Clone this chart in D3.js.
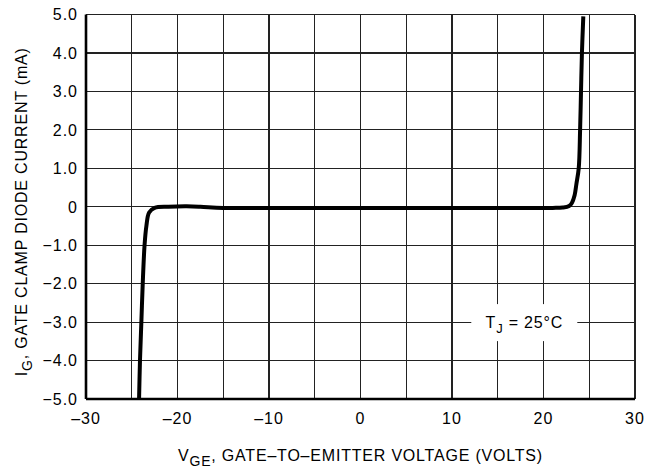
<!DOCTYPE html>
<html lang="en">
<head>
    <meta charset="UTF-8">
    <title>Gate Clamp Diode Current</title>
    <script src="https://d3js.org/d3.v7.min.js"></script>
    <style>
        body {
            margin: 0;
            background: #fff;
            font-family: "Liberation Sans", Arial, sans-serif;
        }
        .grid line {
            stroke: #222;
            stroke-width: 1.2;
            shape-rendering: crispEdges;
        }
        .tick-label {
            font-size: 16px;
            letter-spacing: 1px;
            fill: #000;
        }
        .title {
            font-size: 16px;
            letter-spacing: 0.8px;
            fill: #000;
        }
    </style>
</head>
<body>
    <div id="chart"></div>

    <script>
        // Gate clamp diode characteristic
        const voltage = [-24.2, -24.1, -23.95, -23.8, -23.6, -23.4, -23.1, -22.5, -21, -19, -17.5, -15, -5, 5, 15, 21, 22.1, 22.8, 23.1, 23.4, 23.6, 23.85, 24.0, 24.1, 24.2, 24.35];
        const current = [-5.0, -4.0, -3.0, -2.0, -1.0, -0.5, -0.15, -0.03, 0.0, 0.01, 0.0, -0.03, -0.03, -0.03, -0.03, -0.03, -0.02, 0.02, 0.1, 0.3, 0.6, 1.0, 2.0, 3.0, 4.0, 4.95];

        const xTicks = [-30, -25, -20, -15, -10, -5, 0, 5, 10, 15, 20, 25, 30];
        const xLabels = [-30, -20, -10, 0, 10, 20, 30];
        const yTicks = [-5, -4, -3, -2, -1, 0, 1, 2, 3, 4, 5];

        const width = 650, height = 470;
        const margin = { top: 14.5, right: 15, bottom: 71, left: 86 };
        const chartWidth = width - margin.left - margin.right;
        const chartHeight = height - margin.top - margin.bottom;

        const svg = d3.select("#chart").append("svg")
            .attr("width", width)
            .attr("height", height);

        const g = svg.append("g")
            .attr("transform", `translate(${margin.left}, ${margin.top})`);

        const x = d3.scaleLinear().domain([-30, 30]).range([0, chartWidth]);
        const y = d3.scaleLinear().domain([-5, 5]).range([chartHeight, 0]);

        const minus = s => String(s).replace("-", "\u2013");

        // grid
        const grid = g.append("g").attr("class", "grid");
        grid.selectAll(".vx").data(xTicks).enter().append("line")
            .attr("x1", d => x(d)).attr("x2", d => x(d))
            .attr("y1", 0).attr("y2", chartHeight);
        grid.selectAll(".hy").data(yTicks).enter().append("line")
            .attr("x1", 0).attr("x2", chartWidth)
            .attr("y1", d => y(d)).attr("y2", d => y(d));

        // heavy left and bottom axes
        g.append("line")
            .attr("x1", 0).attr("x2", 0).attr("y1", 0).attr("y2", chartHeight)
            .attr("stroke", "#000").attr("stroke-width", 2.6);
        g.append("line")
            .attr("x1", 0).attr("x2", chartWidth).attr("y1", chartHeight).attr("y2", chartHeight)
            .attr("stroke", "#000").attr("stroke-width", 2.6);

        // tick labels
        g.selectAll(".xl").data(xLabels).enter().append("text")
            .attr("class", "tick-label")
            .attr("x", d => x(d))
            .attr("y", chartHeight + 25)
            .attr("text-anchor", "middle")
            .text(d => minus(d));

        g.selectAll(".yl").data(yTicks).enter().append("text")
            .attr("class", "tick-label")
            .attr("x", -8)
            .attr("y", d => y(d))
            .attr("dy", "0.36em")
            .attr("text-anchor", "end")
            .text(d => d === 0 ? "0" : minus(d3.format(".1f")(d)));

        // temperature note with white box over the grid
        const note = g.append("g")
            .attr("transform", `translate(${x(17.9)}, ${y(-3)})`);
        note.append("rect")
            .attr("x", -53).attr("y", -18).attr("width", 106).attr("height", 37)
            .attr("fill", "#fff");
        const nt = note.append("text")
            .attr("class", "title")
            .attr("text-anchor", "middle")
            .attr("dy", "0.36em");
        nt.append("tspan").text("T");
        nt.append("tspan").attr("dy", 5).attr("font-size", 13).text("J");
        nt.append("tspan").attr("dy", -5).text(" = 25\u00B0C");

        // curve
        const pts = voltage.map((v, i) => [v, current[i]]);
        const line = d3.line()
            .x(d => x(d[0]))
            .y(d => y(d[1]))
            .curve(d3.curveCatmullRom.alpha(0.5));
        g.append("path")
            .datum(pts)
            .attr("fill", "none")
            .attr("stroke", "#000")
            .attr("stroke-width", 4)
            .attr("stroke-linejoin", "round")
            .attr("d", line);

        // axis titles
        const xt = svg.append("text")
            .attr("class", "title")
            .attr("x", margin.left + chartWidth / 2)
            .attr("y", 461)
            .attr("text-anchor", "middle");
        xt.append("tspan").text("V");
        xt.append("tspan").attr("dy", 5).attr("font-size", 14).text("GE");
        xt.append("tspan").attr("dy", -5).text(", GATE\u2013TO\u2013EMITTER VOLTAGE (VOLTS)");

        const yt = svg.append("text")
            .attr("class", "title")
            .attr("transform", `translate(27, ${margin.top + chartHeight / 2 + 5}) rotate(-90)`)
            .attr("text-anchor", "middle");
        yt.append("tspan").text("I");
        yt.append("tspan").attr("dy", 5).attr("font-size", 14).text("G");
        yt.append("tspan").attr("dy", -5).text(", GATE CLAMP DIODE CURRENT (mA)");
    </script>
</body>
</html>
